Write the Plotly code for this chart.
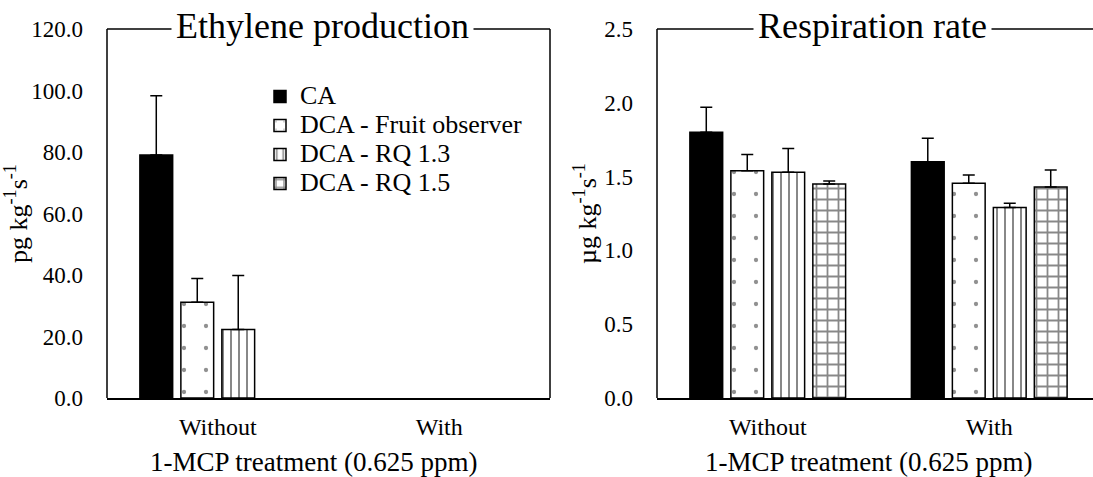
import plotly.graph_objects as go
from plotly.subplots import make_subplots

categories = ["Without", "With"]
series_names = ["CA", "DCA - Fruit observer", "DCA - RQ 1.3", "DCA - RQ 1.5"]

# Ethylene production (pg kg-1 s-1)
eth_ca = [79.0, None]
eth_ca_err = [19.3, 0]
eth_fo = [31.1, None]
eth_fo_err = [7.8, 0]
eth_rq13 = [22.3, None]
eth_rq13_err = [17.5, 0]
eth_rq15 = [None, None]
eth_rq15_err = [0, 0]

# Respiration rate (ug kg-1 s-1)
resp_ca = [1.80, 1.60]
resp_ca_err = [0.17, 0.16]
resp_fo = [1.54, 1.455]
resp_fo_err = [0.11, 0.055]
resp_rq13 = [1.53, 1.29]
resp_rq13_err = [0.16, 0.03]
resp_rq15 = [1.45, 1.43]
resp_rq15_err = [0.02, 0.115]

eth_ticks = [0, 20, 40, 60, 80, 100, 120]
resp_ticks = [0, 0.5, 1.0, 1.5, 2.0, 2.5]

x_title = "1-MCP treatment (0.625 ppm)"

FONT = "Liberation Serif, Times New Roman, serif"
W, H = 1093, 477

styles = [
    dict(color="black", pattern=None),
    dict(color="white", pattern=dict(shape=".", fgcolor="#222", bgcolor="white", size=22, solidity=0.03, fillmode="overlay")),
    dict(color="white", pattern=dict(shape="|", fgcolor="#111", bgcolor="white", size=8, solidity=0.25, fillmode="overlay")),
    dict(color="white", pattern=dict(shape="+", fgcolor="#111", bgcolor="white", size=11, solidity=0.3, fillmode="overlay")),
]

fig = make_subplots(rows=1, cols=2)

eth_sets = [(eth_ca, eth_ca_err), (eth_fo, eth_fo_err), (eth_rq13, eth_rq13_err), (eth_rq15, eth_rq15_err)]
resp_sets = [(resp_ca, resp_ca_err), (resp_fo, resp_fo_err), (resp_rq13, resp_rq13_err), (resp_rq15, resp_rq15_err)]

for col, sets in ((1, eth_sets), (2, resp_sets)):
    for i, (vals, errs) in enumerate(sets):
        st = styles[i]
        marker = dict(color=st["color"], line=dict(color="black", width=1.5))
        if st["pattern"] is not None:
            marker["pattern"] = st["pattern"]
        fig.add_trace(
            go.Bar(
                x=categories,
                y=vals,
                name="<span style='font-size:26px'>" + series_names[i] + "</span>",
                legendgroup=series_names[i],
                showlegend=(col == 1),
                marker=marker,
                error_y=dict(type="data", array=errs, arrayminus=[0] * len(errs), symmetric=False,
                             color="black", thickness=1.5, width=6),
            ),
            row=1, col=col,
        )

px0_l, px1_l = 107, 550
px0_r = 657
y_bot, y_top = 398, 29

xax = dict(showline=True, linecolor="black", linewidth=2, ticks="", showgrid=False, zeroline=False,
           ticklabelstandoff=6, automargin=False, tickfont=dict(size=24))
yax = dict(domain=[(H - y_bot) / H, (H - y_top) / H], tickformat=".1f", showgrid=False, zeroline=False,
           showline=False, ticks="", ticklabelstandoff=23, automargin=False, tickfont=dict(size=23))

fig.update_layout(
    width=W, height=H,
    margin=dict(l=0, r=0, t=0, b=0),
    paper_bgcolor="white", plot_bgcolor="white",
    barmode="group", bargap=0.26, bargroupgap=0.2,
    font=dict(family=FONT, size=23, color="black"),
    legend=dict(x=260 / W, y=(H - 77) / H, xanchor="left", yanchor="top",
                font=dict(family=FONT, size=20), bgcolor="rgba(0,0,0,0)",
                itemwidth=30, tracegroupgap=0),
    xaxis=dict(xax, domain=[px0_l / W, px1_l / W], range=[-0.5, 1.5]),
    xaxis2=dict(xax, domain=[px0_r / W, 1.0], range=[-0.5, 1.5 - 7 / 221.5]),
    yaxis=dict(yax, range=[0, 120], tickvals=eth_ticks,
               title=dict(text="pg kg<sup>-1</sup>s<sup>-1</sup>", font=dict(size=26), standoff=0)),
    yaxis2=dict(yax, range=[0, 2.5], tickvals=resp_ticks,
                title=dict(text="µg kg<sup>-1</sup>s<sup>-1</sup>", font=dict(size=26), standoff=0)),
)

line = dict(color="black", width=1.5)
# frames
for xr, yr, right in (("x domain", "y domain", True), ("x2 domain", "y2 domain", False)):
    fig.add_shape(type="line", xref=xr, yref=yr, x0=0, x1=0, y0=0, y1=1, line=line)
    fig.add_shape(type="line", xref=xr, yref=yr, x0=0, x1=1, y0=1, y1=1, line=line)
    if right:
        fig.add_shape(type="line", xref=xr, yref=yr, x0=1, x1=1, y0=0, y1=1, line=line)

fig.add_annotation(text="Ethylene production", xref="paper", yref="paper",
                   x=322 / W, y=(H - 26) / H, xanchor="center", yanchor="middle",
                   showarrow=False, font=dict(family=FONT, size=36), bgcolor="white", borderpad=4)
fig.add_annotation(text="Respiration rate", xref="paper", yref="paper",
                   x=872 / W, y=(H - 26) / H, xanchor="center", yanchor="middle",
                   showarrow=False, font=dict(family=FONT, size=36), bgcolor="white", borderpad=4)

for cx in (313, 868):
    fig.add_annotation(text=x_title, xref="paper", yref="paper",
                       x=cx / W, y=(H - 462) / H, xanchor="center", yanchor="middle",
                       showarrow=False, font=dict(family=FONT, size=27))

fig.write_html("out.html")
